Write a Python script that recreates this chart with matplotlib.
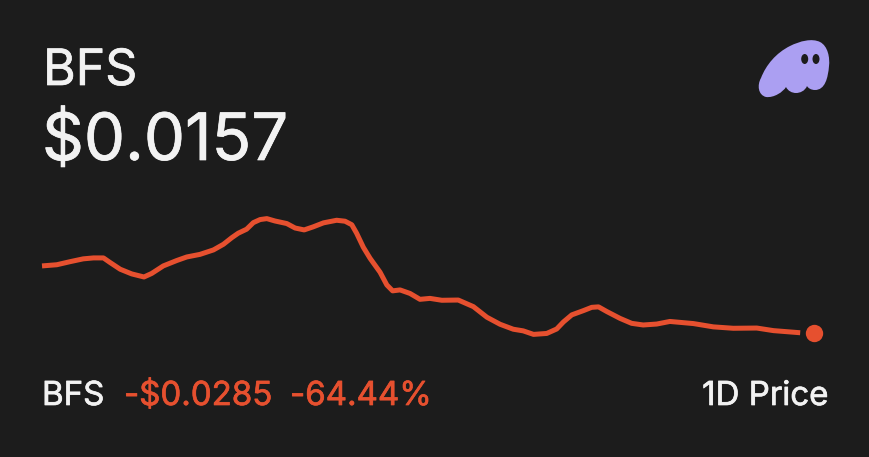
import matplotlib
matplotlib.use('Agg')
import matplotlib.pyplot as plt
import matplotlib.patheffects as pe
from matplotlib.patches import PathPatch, Ellipse
from matplotlib.path import Path

hours = [0, 0.46, 0.87, 1.28, 1.60, 1.91, 2.11, 2.43, 2.79, 3.17, 3.41, 3.77, 4.19, 4.50, 4.91,
         5.33, 5.64, 5.90, 6.10, 6.36, 6.57, 6.78, 6.99, 7.24, 7.61, 7.87, 8.15, 8.43, 8.75,
         9.16, 9.42, 9.63, 9.78, 9.99, 10.20, 10.51, 10.72, 10.90, 11.13, 11.44, 11.75, 12.06,
         12.43, 12.94, 13.41, 13.83, 14.24, 14.65, 14.96, 15.28, 15.69, 16.00, 16.21, 16.47,
         16.83, 17.09, 17.30, 17.56, 17.97, 18.33, 18.69, 19.11, 19.52, 20.25, 20.87, 21.49,
         22.22, 22.74, 23.57]
price = [.0442, .0447, .0460, .0472, .0476, .0476, .0457, .0428, .0408, .0395, .0410, .0442,
         .0465, .0480, .0491, .0510, .0534, .0562, .0581, .0598, .0626, .0639, .0643, .0633,
         .0622, .0603, .0595, .0608, .0625, .0636, .0632, .0617, .0581, .0521, .0474, .0415,
         .0361, .0336, .0340, .0325, .0300, .0304, .0296, .0297, .0269, .0224, .0194, .0173,
         .0166, .0151, .0155, .0174, .0204, .0234, .0252, .0266, .0268, .0248, .0219, .0198,
         .0191, .0195, .0206, .0197, .0183, .0177, .0178, .0167, .0158]
last_hour = 24.0
last_price = 0.0157

symbol = 'BFS'
price_label = '$0.0157'
change_label = '-$0.0285'
percent_label = '-64.44%'
period_label = '1D Price'

bg = '#1c1c1c'
red = '#e6502f'
white = '#f2f2f2'
lilac = '#ab9ff2'

plt.rcParams['font.family'] = ['Inter', 'DejaVu Sans']

fig = plt.figure(figsize=(8.7, 4.57), dpi=100, facecolor=bg)

ax = fig.add_axes([0, 0, 1, 1])
ax.set_xlim(-1.306, 25.74)
ax.set_ylim(-0.0370, 0.1572)
ax.axis('off')
ax.plot(hours, price, color=red, lw=3.6, solid_capstyle='butt', solid_joinstyle='round')
ax.plot([last_hour], [last_price], 'o', color=red, ms=12.5, mew=0)

# overlay in pixels for text and logo
ov = fig.add_axes([0, 0, 1, 1])
ov.set_xlim(0, 870)
ov.set_ylim(457, 0)
ov.axis('off')
ov.patch.set_alpha(0)


def label(x, y, s, color, size, ha='left'):
    t = ov.text(x, y, s, color=color, fontsize=size, va='baseline', ha=ha)
    # reference glyphs are a little heavier than regular Inter
    t.set_path_effects([pe.withStroke(linewidth=0.5, foreground=color)])


label(43, 85, symbol, white, 36)
label(42, 160, price_label, white, 47)
label(42, 405, symbol, white, 23.8)
label(124, 405, change_label, red, 23.8)
label(290, 405, percent_label, red, 23.8)
label(828, 405, period_label, white, 23.8, ha='right')

verts = [(766, 97),
         (758, 95), (757, 85), (761, 78),
         (766, 65), (776, 53), (790, 46),
         (800, 41), (812, 38), (820, 42),
         (828, 46), (830, 58), (829, 66),
         (828, 78), (825, 90), (815, 90),
         (811, 90), (808, 88), (807, 86),
         (805, 91), (800, 93), (796, 93),
         (792, 93), (788, 91), (786, 87),
         (783, 92), (774, 98), (766, 97)]
codes = [Path.MOVETO] + [Path.CURVE4] * 27
ov.add_patch(PathPatch(Path(verts, codes), fc=lilac, ec='none'))
ov.add_patch(Ellipse((804.7, 59), 7, 10, fc=bg, ec='none'))
ov.add_patch(Ellipse((816, 59), 7, 10, fc=bg, ec='none'))

fig.savefig('out.png', dpi=100, facecolor=bg)
